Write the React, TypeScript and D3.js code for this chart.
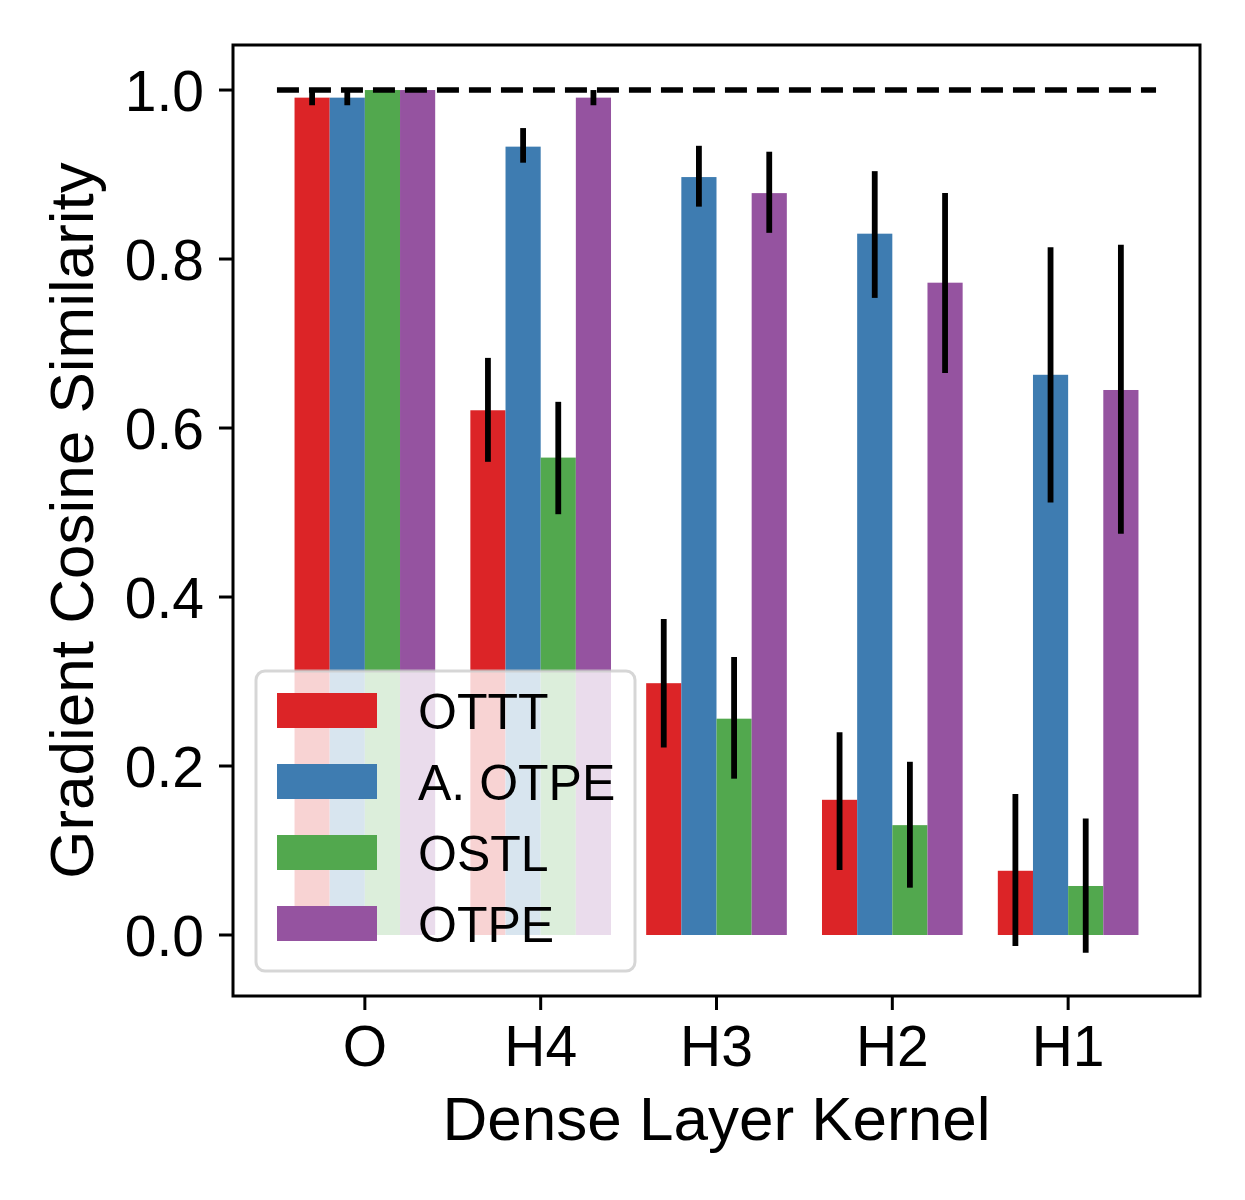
import React from "react";
import * as d3 from "d3";

const categories = ["O", "H4", "H3", "H2", "H1"];
const seriesNames = ["OTTT", "A. OTPE", "OSTL", "OTPE"];
const seriesColors = ["#dc2427", "#3e7cb1", "#52a84e", "#9553a0"];

const meanOTTT = [0.991, 0.621, 0.298, 0.16, 0.076];
const meanAOTPE = [0.991, 0.933, 0.897, 0.83, 0.663];
const meanOSTL = [1.0, 0.565, 0.256, 0.13, 0.058];
const meanOTPE = [1.0, 0.991, 0.878, 0.772, 0.645];

const lowOTTT = [0.982, 0.56, 0.222, 0.077, -0.013];
const highOTTT = [1.0, 0.683, 0.374, 0.24, 0.167];
const lowAOTPE = [0.982, 0.914, 0.862, 0.754, 0.512];
const highAOTPE = [1.0, 0.955, 0.934, 0.904, 0.814];
const lowOSTL = [1.0, 0.498, 0.185, 0.056, -0.021];
const highOSTL = [1.0, 0.631, 0.329, 0.205, 0.138];
const lowOTPE = [1.0, 0.982, 0.831, 0.665, 0.475];
const highOTPE = [1.0, 1.0, 0.927, 0.878, 0.817];

const yTicks = [0.0, 0.2, 0.4, 0.6, 0.8, 1.0];
const referenceLevel = 1.0;

const means = [meanOTTT, meanAOTPE, meanOSTL, meanOTPE];
const lows = [lowOTTT, lowAOTPE, lowOSTL, lowOTPE];
const highs = [highOTTT, highAOTPE, highOSTL, highOTPE];

const W = 1245;
const H = 1200;
const left = 233;
const right = 1200;
const top = 45;
const bottom = 996;
const FONT = "'Liberation Sans', Arial, Helvetica, sans-serif";

export default function App() {
  const x = d3.scaleLinear().domain([-0.75, categories.length - 0.25]).range([left, right]);
  const y = d3.scaleLinear().domain([-0.0722, 1.0533]).range([bottom, top]);
  const groupWidth = 0.8;
  const n = seriesNames.length;
  const bw = groupWidth / n;

  const bars: React.ReactNode[] = [];
  const errs: React.ReactNode[] = [];
  means.forEach((vals, s) => {
    vals.forEach((v, i) => {
      const x0 = i - groupWidth / 2 + s * bw;
      const xc = x0 + bw / 2;
      bars.push(
        <rect
          key={`b${s}-${i}`}
          x={x(x0)}
          y={y(Math.max(v, 0))}
          width={x(x0 + bw) - x(x0)}
          height={Math.abs(y(0) - y(v))}
          fill={seriesColors[s]}
        />
      );
      if (highs[s][i] - lows[s][i] > 0.001) {
        errs.push(
          <line
            key={`e${s}-${i}`}
            x1={x(xc)}
            x2={x(xc)}
            y1={y(lows[s][i])}
            y2={y(highs[s][i])}
            stroke="#000"
            strokeWidth={5.8}
          />
        );
      }
    });
  });

  const legX = 256;
  const legY = 671;
  const legW = 379;
  const legH = 300;
  const rowStep = 71;
  const firstRow = 710.5;

  return (
    <svg
      width={W}
      height={H}
      style={{ position: "absolute", left: 0, top: 0, background: "#fff" }}
      fontFamily={FONT}
    >
      <rect x={0} y={0} width={W} height={H} fill="#fff" />
      {bars}
      {errs}
      <line
        x1={x(-0.5)}
        x2={x(categories.length - 0.5)}
        y1={y(referenceLevel)}
        y2={y(referenceLevel)}
        stroke="#000"
        strokeWidth={5.5}
        strokeDasharray="22 10"
      />
      {/* axes frame */}
      <rect x={left} y={top} width={right - left} height={bottom - top} fill="none" stroke="#000" strokeWidth={3} />
      {/* y ticks */}
      {yTicks.map((t) => (
        <g key={`yt${t}`}>
          <line x1={left - 14} x2={left} y1={y(t)} y2={y(t)} stroke="#000" strokeWidth={3} />
          <text x={204} y={y(t)} dy="0.36em" textAnchor="end" fontSize={57} fill="#000">
            {t.toFixed(1)}
          </text>
        </g>
      ))}
      {/* x ticks */}
      {categories.map((c, i) => (
        <g key={`xt${c}`}>
          <line x1={x(i)} x2={x(i)} y1={bottom} y2={bottom + 14} stroke="#000" strokeWidth={3} />
          <text x={x(i)} y={1066} textAnchor="middle" fontSize={57} fill="#000">
            {c}
          </text>
        </g>
      ))}
      <text x={(left + right) / 2} y={1140} textAnchor="middle" fontSize={62} fill="#000">
        Dense Layer Kernel
      </text>
      <text
        transform={`translate(93, ${(top + bottom) / 2}) rotate(-90)`}
        textAnchor="middle"
        fontSize={62}
        fill="#000"
      >
        Gradient Cosine Similarity
      </text>
      {/* legend */}
      <rect
        x={legX}
        y={legY}
        width={legW}
        height={legH}
        rx={9}
        ry={9}
        fill="#fff"
        fillOpacity={0.8}
        stroke="#cccccc"
        strokeOpacity={0.8}
        strokeWidth={3}
      />
      {seriesNames.map((name, s) => {
        const cy = firstRow + s * rowStep;
        return (
          <g key={`lg${s}`}>
            <rect x={277} y={cy - 17.5} width={100} height={35} fill={seriesColors[s]} />
            <text x={418} y={cy} dy="0.36em" fontSize={50} fill="#000">
              {name}
            </text>
          </g>
        );
      })}
    </svg>
  );
}
